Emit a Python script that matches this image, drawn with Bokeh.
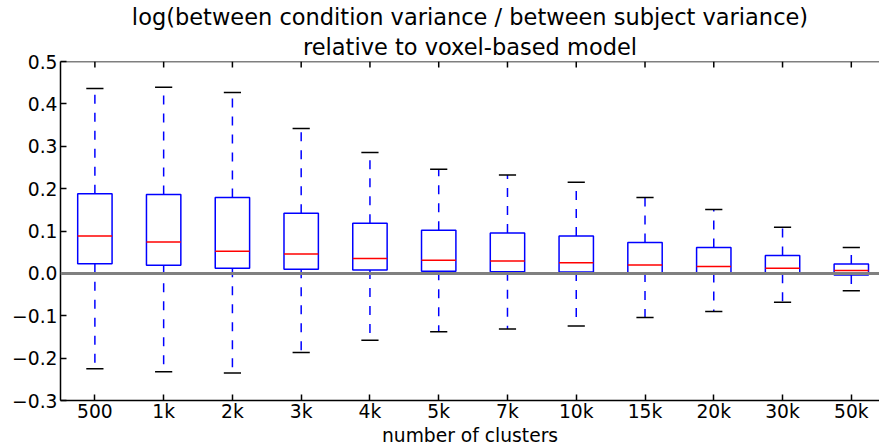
import numpy as np
from bokeh.plotting import figure
from bokeh.models import Range1d, FixedTicker, Span, CustomJSTickFormatter, Title
from bokeh.embed import file_html
from bokeh.resources import INLINE

categories = ["500", "1k", "2k", "3k", "4k", "5k", "7k", "10k", "15k", "20k", "30k", "50k"]
whisker_hi = [0.436, 0.439, 0.427, 0.342, 0.285, 0.246, 0.232, 0.215, 0.179, 0.151, 0.109, 0.061]
q3 = [0.188, 0.186, 0.179, 0.142, 0.118, 0.102, 0.095, 0.088, 0.073, 0.061, 0.042, 0.022]
median = [0.088, 0.074, 0.052, 0.046, 0.035, 0.031, 0.029, 0.025, 0.020, 0.016, 0.012, 0.007]
q1 = [0.023, 0.019, 0.012, 0.010, 0.008, 0.005, 0.004, 0.003, 0.001, 0.000, -0.002, -0.004]
whisker_lo = [-0.225, -0.232, -0.235, -0.187, -0.158, -0.138, -0.131, -0.124, -0.104, -0.090, -0.068, -0.041]
y_ticks = [-0.3, -0.2, -0.1, 0.0, 0.1, 0.2, 0.3, 0.4, 0.5]

title_line1 = "log(between condition variance / between subject variance)"
title_line2 = "relative to voxel-based model"
x_label = "number of clusters"

FONT = "DejaVu Sans"
TICK_FS = "18.7px"
TITLE_FS = "22.5px"
LW = 1.5
x = np.arange(1, len(categories) + 1, dtype=float)
box_w = 0.5
cap_w = 0.25
y_lo, y_hi = y_ticks[0], y_ticks[-1]

p = figure(width=879, height=448, output_backend="svg", toolbar_location=None,
           x_range=Range1d(0.5, 12.41), y_range=Range1d(y_lo, y_hi),
           min_border_left=60, min_border_right=0, min_border_top=61, min_border_bottom=47,
           title=None)
p.background_fill_color = "white"
p.border_fill_color = "white"
p.outline_line_color = None
p.xgrid.visible = False
p.ygrid.visible = False

# titles: first added is closest to the frame
p.add_layout(Title(text=title_line2, align="center", text_font=FONT, text_font_size=TITLE_FS,
                   text_font_style="normal", text_color="black", standoff=4, offset=0), "above")
p.add_layout(Title(text=title_line1, align="center", text_font=FONT, text_font_size=TITLE_FS,
                   text_font_style="normal", text_color="black", standoff=0, offset=0), "above")

xticker = FixedTicker(ticks=list(x))
overrides = {float(i + 1): c for i, c in enumerate(categories)}

def style_axis(ax):
    ax.axis_line_color = "black"
    ax.axis_line_width = LW
    ax.major_tick_line_color = "black"
    ax.major_tick_line_width = LW
    ax.major_tick_in = 6
    ax.major_tick_out = 0
    ax.minor_tick_line_color = None
    ax.major_label_text_font = FONT
    ax.major_label_text_font_size = TICK_FS
    ax.major_label_text_color = "black"

xa = p.xaxis[0]
xa.ticker = xticker
xa.major_label_overrides = overrides
style_axis(xa)
xa.major_label_standoff = 0
xa.axis_label = x_label
xa.axis_label_text_font = FONT
xa.axis_label_text_font_size = TICK_FS
xa.axis_label_text_font_style = "normal"
xa.axis_label_text_color = "black"
xa.axis_label_standoff = 0

ya = p.yaxis[0]
ya.ticker = FixedTicker(ticks=y_ticks)
ya.formatter = CustomJSTickFormatter(code="return tick.toFixed(1).replace('-', '\u2212');")
style_axis(ya)
ya.major_label_standoff = 3

# top spine and inward top ticks (matplotlib style frame)
p.add_layout(Span(location=y_hi, dimension="width", line_color="black", line_width=LW))
tick_len = (y_hi - y_lo) * 6.0 / 340.0
p.segment(x0=x, x1=x, y0=y_hi, y1=y_hi - tick_len, line_color="black", line_width=LW)

# boxes
p.vbar(x=x, width=box_w, top=q3, bottom=q1, fill_color=None, line_color="#0000ff", line_width=LW)
# medians
p.segment(x0=x - box_w / 2, x1=x + box_w / 2, y0=median, y1=median, line_color="#ff0000", line_width=LW)
# whiskers
p.segment(x0=x, x1=x, y0=q3, y1=whisker_hi, line_color="#0000ff", line_width=LW, line_dash="9 9")
p.segment(x0=x, x1=x, y0=q1, y1=whisker_lo, line_color="#0000ff", line_width=LW, line_dash="9 9")
# caps
p.segment(x0=x - cap_w / 2, x1=x + cap_w / 2, y0=whisker_hi, y1=whisker_hi, line_color="black", line_width=LW)
p.segment(x0=x - cap_w / 2, x1=x + cap_w / 2, y0=whisker_lo, y1=whisker_lo, line_color="black", line_width=LW)

p.add_layout(Span(location=0, dimension="width", line_color="#808080", line_width=3))

open("out.html", "w").write(file_html(p, INLINE))
